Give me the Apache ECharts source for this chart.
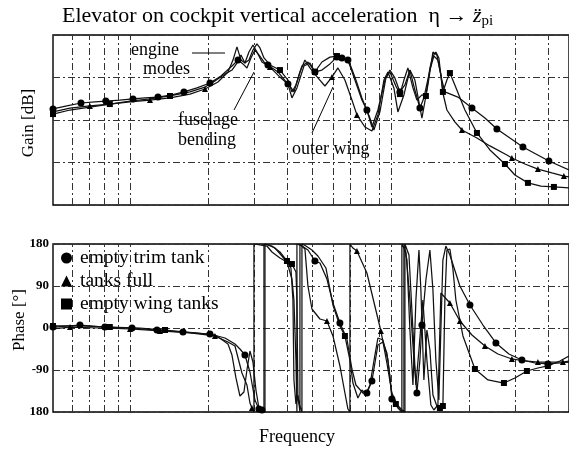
<!DOCTYPE html>
<html>
<head>
<meta charset="utf-8">
<script src="https://cdn.jsdelivr.net/npm/echarts@6/dist/echarts.min.js"></script>
<style>html,body{margin:0;padding:0;background:#fff}#c{width:569px;height:451px}</style>
</head>
<body>
<div id="c"></div>
<script>
// ---- data (frequency, gain dB) ----
const gainTrim = [[0.507,-14.8],[0.573,-13.4],[0.649,-12.0],[0.734,-11.5],[0.808,-11.1],[0.914,-10.6],[1.027,-10.1],[1.141,-9.6],[1.280,-9.2],[1.448,-8.2],[1.610,-6.8],[1.806,-4.9],[2.025,-2.6],[2.232,0.7],[2.459,5.4],[2.593,8.2],[2.709,6.4],[2.806,4.5],[2.907,9.2],[3.011,12.9],[3.119,10.6],[3.261,7.3],[3.378,5.9],[3.689,2.6],[4.030,-3.1],[4.174,-9.6],[4.362,-4.9],[4.640,5.4],[4.892,6.8],[5.113,2.6],[5.438,3.5],[5.836,6.4],[6.208,9.6],[6.488,9.2],[6.840,8.2],[7.276,-1.2],[7.739,-10.6],[8.087,-15.3],[8.453,-23.3],[8.912,-15.3],[9.479,-1.2],[9.906,3.5],[10.35,-0.2],[10.82,-6.8],[11.31,-3.5],[11.82,3.5],[12.35,-5.9],[12.91,-14.4],[13.37,-9.6],[14.10,3.5],[14.60,10.1],[15.13,8.2],[15.67,-1.2],[16.09,-6.8],[18.05,-9.2],[20.43,-14.4],[22.91,-19.1],[25.46,-24.2],[28.56,-28.5],[32.03,-32.7],[35.92,-36.0],[40.28,-39.3],[48.1,-43.5]];
const gainTrimMarks = [0,2,4,6,8,10,12,15,22,24,29,32,33,34,37,43,47,55,57,59,61];

const gainFull = [[0.507,-16.2],[0.589,-14.4],[0.702,-13.4],[0.837,-12.5],[1.0,-11.5],[1.193,-10.6],[1.423,-9.6],[1.698,-7.8],[1.938,-5.4],[2.173,-2.1],[2.374,2.6],[2.481,8.2],[2.570,14.4],[2.662,8.2],[2.757,6.8],[2.856,12.0],[2.959,15.3],[3.065,12.0],[3.204,7.3],[3.438,4.9],[3.755,0.2],[4.101,-4.0],[4.248,-6.8],[4.479,2.6],[4.681,8.2],[4.892,4.5],[5.249,-0.2],[5.584,-4.0],[5.940,0.2],[6.263,4.5],[6.661,-1.2],[7.086,-10.6],[7.405,-17.6],[7.946,-23.3],[8.453,-25.2],[8.912,-17.6],[9.396,-1.2],[9.733,2.6],[10.26,-4.9],[10.63,-16.2],[11.21,-8.2],[11.82,3.5],[12.35,-1.2],[13.14,-19.1],[13.85,-3.5],[14.48,12.0],[14.99,10.6],[15.53,1.2],[15.81,-7.3],[16.38,-15.3],[17.57,-20.9],[18.70,-24.7],[21.35,-28.5],[23.94,-32.2],[27.81,-36.5],[29.06,-37.9],[32.60,-40.7],[36.56,-43.1],[41.37,-44.9],[45.97,-46.4],[48.1,-46.8]];
const gainFullMarks = [2,5,8,19,28,32,51,55,57,59];

const gainWing = [[0.507,-17.2],[0.589,-15.3],[0.702,-13.9],[0.837,-12.5],[1.0,-11.1],[1.193,-10.1],[1.423,-8.7],[1.698,-6.8],[1.938,-4.5],[2.116,-1.6],[2.312,1.6],[2.459,3.5],[2.570,6.8],[2.662,10.6],[2.757,6.8],[2.856,8.2],[2.959,12.9],[3.065,15.8],[3.148,13.9],[3.261,9.2],[3.438,5.9],[3.755,3.5],[4.030,-1.2],[4.174,-6.8],[4.324,-3.5],[4.559,5.4],[4.807,7.3],[5.113,2.6],[5.438,7.3],[5.836,9.6],[6.208,10.1],[6.603,9.2],[6.962,6.4],[7.340,-1.2],[7.739,-9.6],[8.017,-14.4],[8.305,-19.1],[8.603,-24.7],[9.070,-16.2],[9.563,-0.2],[9.906,2.6],[10.44,-4.0],[10.82,-7.8],[11.21,-1.2],[11.61,4.5],[12.14,-4.9],[12.57,-10.6],[13.14,-8.2],[13.61,-8.7],[14.10,4.5],[14.48,10.1],[14.86,12.0],[15.26,9.2],[15.81,-6.8],[16.38,-1.2],[16.82,2.1],[17.57,-3.5],[19.20,-15.3],[21.35,-26.1],[23.94,-34.1],[27.33,-40.7],[29.85,-45.9],[33.48,-49.6],[37.54,-51.1],[42.10,-51.5],[48.1,-52.0]];
const gainWingMarks = [0,3,6,21,27,30,42,48,53,55,58,60,62,64];

// ---- data (frequency, phase deg) ----
const phaseTrim = [[0.507,2.1],[0.643,6.4],[0.801,2.1],[1.018,0],[1.269,-4.3],[1.596,-8.6],[2.025,-12.9],[2.312,-21.4],[2.525,-34.3],[2.638,-45.0],[2.757,-57.9],[2.882,-94.3],[3.011,-154.3],[3.119,-173.6],[3.204,-175.7],[3.261,-180],[3.261,180],[3.378,177.9],[3.593,171.4],[3.822,154.3],[3.994,141.4],[4.174,105.0],[4.248,60.0],[4.324,-68.6],[4.362,-180],[4.362,180],[4.559,175.7],[4.807,167.1],[5.113,143.6],[5.343,139.3],[5.683,105.0],[5.993,53.6],[6.374,10.7],[6.780,-23.6],[7.086,-87.9],[7.340,-122.1],[7.808,-139.3],[8.087,-139.3],[8.453,-113.6],[8.912,-36.4],[9.313,-30.0],[9.647,-53.6],[9.906,-102.9],[10.08,-152.1],[10.63,-171.4],[11.01,-180],[11.01,180],[11.41,162.9],[11.82,60.0],[12.25,-68.6],[12.57,-139.3],[12.91,-68.6],[13.14,6.4],[13.61,102.9],[14.10,167.1],[14.48,81.4],[14.86,-68.6],[15.26,-154.3],[15.53,-4.3],[15.81,145.7],[16.23,175.7],[16.82,156.4],[18.37,90],[20.07,49.3],[22.51,6.4],[25.24,-32.1],[28.30,-55.7],[31.75,-68.6],[35.61,-75.0],[39.93,-77.1],[44.39,-75.0],[48.1,-72.9]];
const phaseTrimMarks = [0,1,2,3,4,5,6,10,13,14,28,32,37,38,43,50,52,63,65,67,69];

const phaseFull = [[0.507,-2.1],[0.589,2.1],[0.767,0],[1.0,-2.1],[1.303,-6.4],[1.698,-10.7],[2.116,-17.1],[2.374,-30.0],[2.525,-38.6],[2.685,-96.4],[2.806,-122.1],[2.882,-160.7],[2.933,-171.4],[2.985,-180],[2.985,180],[3.148,177.9],[3.348,175.7],[3.499,162.9],[3.755,150.0],[3.994,141.4],[4.137,128.6],[4.211,60.0],[4.248,-111.4],[4.324,-162.9],[4.401,-143.6],[4.479,-180],[4.479,180],[4.681,169.3],[4.807,90],[4.979,40.7],[5.343,19.3],[5.683,15.0],[5.993,-17.1],[6.374,-81.4],[6.661,-139.3],[6.840,-173.6],[6.962,-180],[6.962,180],[7.149,171.4],[7.405,165.0],[8.087,117.9],[9.150,-6.4],[9.647,-75.0],[10.08,-139.3],[10.63,-167.1],[11.01,-175.7],[11.31,-180],[11.31,180],[11.72,156.4],[12.14,-4.3],[12.46,-122.1],[12.80,-47.1],[13.25,60.0],[13.73,-68.6],[14.22,-165.0],[14.60,-175.7],[15.13,-165.0],[15.53,75.0],[16.82,53.6],[18.37,15.0],[20.43,-15.0],[22.91,-38.6],[25.69,-55.7],[29.06,-66.4],[32.60,-70.7],[36.56,-72.9],[41.00,-72.9],[45.57,-72.9],[48.1,-70.7]];
const phaseFullMarks = [1,3,4,6,12,31,39,41,58,59,61,63,65,67];

const phaseWing = [[0.507,4.3],[0.643,4.3],[0.837,2.1],[1.092,0],[1.362,-4.3],[1.775,-10.7],[2.116,-15.0],[2.232,-23.6],[2.374,-34.3],[2.459,-57.9],[2.547,-107.1],[2.638,-145.7],[2.733,-137.1],[2.806,-90],[2.882,-49.3],[2.959,-72.9],[3.038,-132.9],[3.119,-171.4],[3.290,-180],[3.290,180],[3.499,175.7],[3.755,162.9],[3.994,143.6],[4.174,137.1],[4.324,120.0],[4.362,60.0],[4.401,-154.3],[4.479,-167.1],[4.559,-180],[4.559,180],[4.722,175.7],[4.979,167.1],[5.249,154.3],[5.633,128.6],[5.993,49.3],[6.374,4.3],[6.661,-17.1],[6.962,-68.6],[7.149,-117.9],[7.470,-150.0],[7.739,-132.9],[8.017,-141.4],[8.305,-122.1],[8.680,-57.9],[8.912,-21.4],[9.313,-25.7],[9.733,-68.6],[10.08,-143.6],[10.44,-162.9],[10.82,-171.4],[11.21,-180],[11.21,180],[11.51,145.7],[11.82,-4.3],[12.14,-122.1],[12.46,60.0],[12.80,167.1],[13.02,81.4],[13.37,-111.4],[13.73,-4.3],[14.10,-47.1],[14.48,-143.6],[14.99,-167.1],[15.40,-171.4],[15.81,-167.1],[16.09,60.0],[16.38,167.1],[16.82,169.3],[17.27,126.4],[17.73,60.0],[18.87,-17.1],[20.97,-87.9],[23.53,-111.4],[27.09,-117.9],[29.85,-107.1],[33.18,-92.1],[36.56,-85.7],[39.93,-81.4],[44.39,-70.7],[48.1,-60.0]];
const phaseWingMarks = [0,2,4,22,23,36,48,63,64,71,73,75,77];

const seriesNames = ['empty trim tank', 'tanks full', 'empty wing tanks'];
const freqGridLines = [0.6,0.7,0.8,0.9,1,2,3,4,5,6,7,8,9,10,20,30,40];
const freqMin = 0.507, freqMax = 48.1;
const gainTicks = {min: -60, max: 20, interval: 20};
const phaseTicks = {min: -180, max: 180, interval: 90};

// ---- chart ----
const SERIF = 'Liberation Serif';
const INK = '#111';
const chart = echarts.init(document.getElementById('c'), null, {renderer: 'canvas'});

function markSize(marks, size) {
  return function (v, p) { return marks.indexOf(p.dataIndex) >= 0 ? size : 0; };
}
function curve(name, data, marks, symbol, size, idx) {
  return {
    name: name, type: 'line', data: data, xAxisIndex: idx, yAxisIndex: idx,
    symbol: symbol, symbolSize: markSize(marks, size), showSymbol: true, showAllSymbol: true,
    lineStyle: {color: INK, width: 1.25}, itemStyle: {color: '#000'},
    emphasis: {disabled: true}, silent: true, clip: true, z: 5
  };
}
const gridLineStyle = {color: '#333', width: 1, type: [7, 3, 2, 3]};
function vGrid(idx) {
  return {
    type: 'line', data: [], xAxisIndex: idx, yAxisIndex: idx, silent: true,
    markLine: {
      silent: true, symbol: ['none', 'none'], label: {show: false},
      lineStyle: gridLineStyle, animation: false,
      data: freqGridLines.map(f => ({xAxis: f}))
    }
  };
}

const option = {
  animation: false,
  backgroundColor: '#fff',
  grid: [
    {left: 53, top: 35, width: 516, height: 170, show: true, borderColor: '#000', borderWidth: 1.4, backgroundColor: 'transparent'},
    {left: 53, top: 244, width: 516, height: 168, show: true, borderColor: '#000', borderWidth: 1.4, backgroundColor: 'transparent'}
  ],
  xAxis: [0, 1].map(i => ({
    type: 'log', logBase: 10, gridIndex: i, min: freqMin, max: freqMax,
    axisLine: {show: false}, axisTick: {show: false}, axisLabel: {show: false},
    splitLine: {show: false}, minorSplitLine: {show: false}
  })),
  yAxis: [
    {type: 'value', gridIndex: 0, min: gainTicks.min, max: gainTicks.max, interval: gainTicks.interval,
     axisLine: {show: false}, axisTick: {show: false}, axisLabel: {show: false},
     splitLine: {show: true, lineStyle: gridLineStyle}},
    {type: 'value', gridIndex: 1, min: phaseTicks.min, max: phaseTicks.max, interval: phaseTicks.interval,
     axisLine: {show: false}, axisTick: {show: false},
     axisLabel: {show: true, margin: 4, color: '#000', fontFamily: SERIF, fontSize: 13, fontWeight: 'bold',
       formatter: v => (v === -180 ? '180' : String(v))},
     splitLine: {show: true, lineStyle: gridLineStyle}}
  ],
  legend: {
    data: [{name: seriesNames[0], icon: 'circle'}, {name: seriesNames[1], icon: 'triangle'}, {name: seriesNames[2], icon: 'rect'}],
    orient: 'vertical', left: 61, top: 248, itemWidth: 11, itemHeight: 11, itemGap: 3,
    selectedMode: false, padding: 0,
    textStyle: {color: '#000', fontFamily: SERIF, fontSize: 19.5, padding: [0, 0, 0, 3]},
    backgroundColor: 'transparent'
  },
  graphic: [
    {type: 'text', left: 62, top: 5, style: {
      text: '{m|Elevator on cockpit vertical acceleration  η → }{z|z̈}{s|pi}',
      rich: {
        m: {fontFamily: SERIF, fontSize: 22, fill: '#000'},
        z: {fontFamily: SERIF, fontSize: 22, fontStyle: 'italic', fill: '#000'},
        s: {fontFamily: SERIF, fontSize: 15, fill: '#000', padding: [10, 0, 0, 0]}
      }}},
    {type: 'text', x: 29, y: 123, rotation: Math.PI / 2, style: {text: 'Gain [dB]', font: '17px "Liberation Serif"', fill: '#000', align: 'center', verticalAlign: 'middle'}},
    {type: 'text', x: 20, y: 320, rotation: Math.PI / 2, style: {text: 'Phase [°]', font: '17px "Liberation Serif"', fill: '#000', align: 'center', verticalAlign: 'middle'}},
    {type: 'text', x: 297, y: 437, style: {text: 'Frequency', font: '18px "Liberation Serif"', fill: '#000', align: 'center', verticalAlign: 'middle'}},
    {type: 'text', left: 131, top: 41, z: 10, style: {text: 'engine', font: '18px "Liberation Serif"', fill: '#000'}},
    {type: 'text', left: 143, top: 60, z: 10, style: {text: 'modes', font: '18px "Liberation Serif"', fill: '#000'}},
    {type: 'text', left: 178, top: 111, z: 10, style: {text: 'fuselage', font: '18px "Liberation Serif"', fill: '#000'}},
    {type: 'text', left: 178, top: 131, z: 10, style: {text: 'bending', font: '18px "Liberation Serif"', fill: '#000'}},
    {type: 'text', left: 292, top: 140, z: 10, style: {text: 'outer wing', font: '18px "Liberation Serif"', fill: '#000'}},
    {type: 'line', z: 10, shape: {x1: 192, y1: 53, x2: 225, y2: 53}, style: {stroke: '#000', lineWidth: 1}},
    {type: 'line', z: 10, shape: {x1: 234, y1: 110, x2: 254, y2: 72}, style: {stroke: '#000', lineWidth: 1}},
    {type: 'line', z: 10, shape: {x1: 312, y1: 133, x2: 333, y2: 87}, style: {stroke: '#000', lineWidth: 1}}
  ],
  series: [
    vGrid(0), vGrid(1),
    curve(seriesNames[0], gainTrim, gainTrimMarks, 'circle', 7, 0),
    curve(seriesNames[1], gainFull, gainFullMarks, 'triangle', 6, 0),
    curve(seriesNames[2], gainWing, gainWingMarks, 'rect', 6, 0),
    curve(seriesNames[0], phaseTrim, phaseTrimMarks, 'circle', 7, 1),
    curve(seriesNames[1], phaseFull, phaseFullMarks, 'triangle', 6, 1),
    curve(seriesNames[2], phaseWing, phaseWingMarks, 'rect', 6, 1)
  ]
};
chart.setOption(option);
</script>
</body>
</html>
